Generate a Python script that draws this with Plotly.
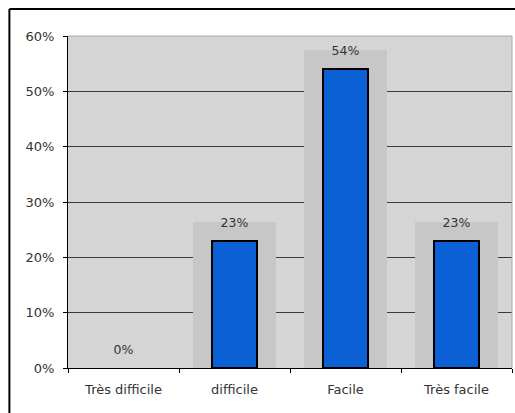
import plotly.graph_objects as go

categories = ["Très difficile", "difficile", "Facile", "Très facile"]
shares = [0.0, 0.23, 0.54, 0.23]
share_labels = ["0%", "23%", "54%", "23%"]

TEXT = "#333333"
FONT = "DejaVu Sans, Arial, sans-serif"

fig = go.Figure()

# grey label boxes behind each bar (excel data-label background look)
fig.add_trace(
    go.Bar(
        x=categories,
        y=[v + 0.034 for v in shares],
        width=0.74,
        marker={
            "color": ["rgba(0,0,0,0)", "#c7c7c7", "#c7c7c7", "#c7c7c7"],
            "line": {"width": 0},
        },
        hoverinfo="skip",
        showlegend=False,
    )
)

fig.add_trace(
    go.Bar(
        x=categories,
        y=shares,
        width=0.4,
        marker={
            "color": "#0a60d4",
            "line": {"color": "#000000", "width": [0, 2, 2, 2]},
        },
        showlegend=False,
    )
)

# data labels just above each bar
fig.add_trace(
    go.Scatter(
        x=categories,
        y=[v + 0.031 for v in shares],
        mode="text",
        text=share_labels,
        textposition="middle center",
        textfont={"color": TEXT, "size": 12.5, "family": FONT},
        hoverinfo="skip",
        showlegend=False,
    )
)

fig.update_layout(
    width=515,
    height=413,
    margin={"l": 68, "r": 3, "t": 36, "b": 45},
    paper_bgcolor="#ffffff",
    plot_bgcolor="#d5d5d5",
    barmode="overlay",
    bargap=0,
    font={"family": FONT, "size": 13, "color": TEXT},
    xaxis={
        "showgrid": False,
        "showline": True,
        "linecolor": "#000000",
        "linewidth": 1,
        "ticks": "outside",
        "tickson": "boundaries",
        "ticklen": 4,
        "tickcolor": "#000000",
        "ticklabelstandoff": 9,
        "range": [-0.5, 3.5],
        "fixedrange": True,
    },
    yaxis={
        "range": [0, 0.6],
        "dtick": 0.1,
        "tickformat": ".0%",
        "showgrid": True,
        "gridcolor": "#3a3a3a",
        "gridwidth": 1,
        "showline": True,
        "linecolor": "#000000",
        "linewidth": 1,
        "ticks": "outside",
        "ticklen": 4,
        "tickcolor": "#000000",
        "ticklabelstandoff": 6,
        "zeroline": False,
        "fixedrange": True,
    },
)

# light edges on top and right of the plot area
edge = {"color": "#a8a8a8", "width": 1}
fig.add_shape(type="line", xref="paper", yref="paper", x0=0, x1=1, y0=1, y1=1, line=edge)
fig.add_shape(type="line", xref="paper", yref="paper", x0=1, x1=1, y0=0, y1=1, line=edge)

# outer chart-area border (only top and left edges are in view)
border = {"color": "#000000", "width": 2}
fig.add_shape(
    type="line", xref="paper", yref="paper",
    x0=-0.132, x1=1.02, y0=1.081, y1=1.081, line=border,
)
fig.add_shape(
    type="line", xref="paper", yref="paper",
    x0=-0.132, x1=-0.132, y0=1.081, y1=-0.2, line=border,
)

fig.write_html(
    "out.html",
    config={"displayModeBar": False},
    post_script="document.body.style.margin='0';document.body.style.overflow='hidden';",
)
